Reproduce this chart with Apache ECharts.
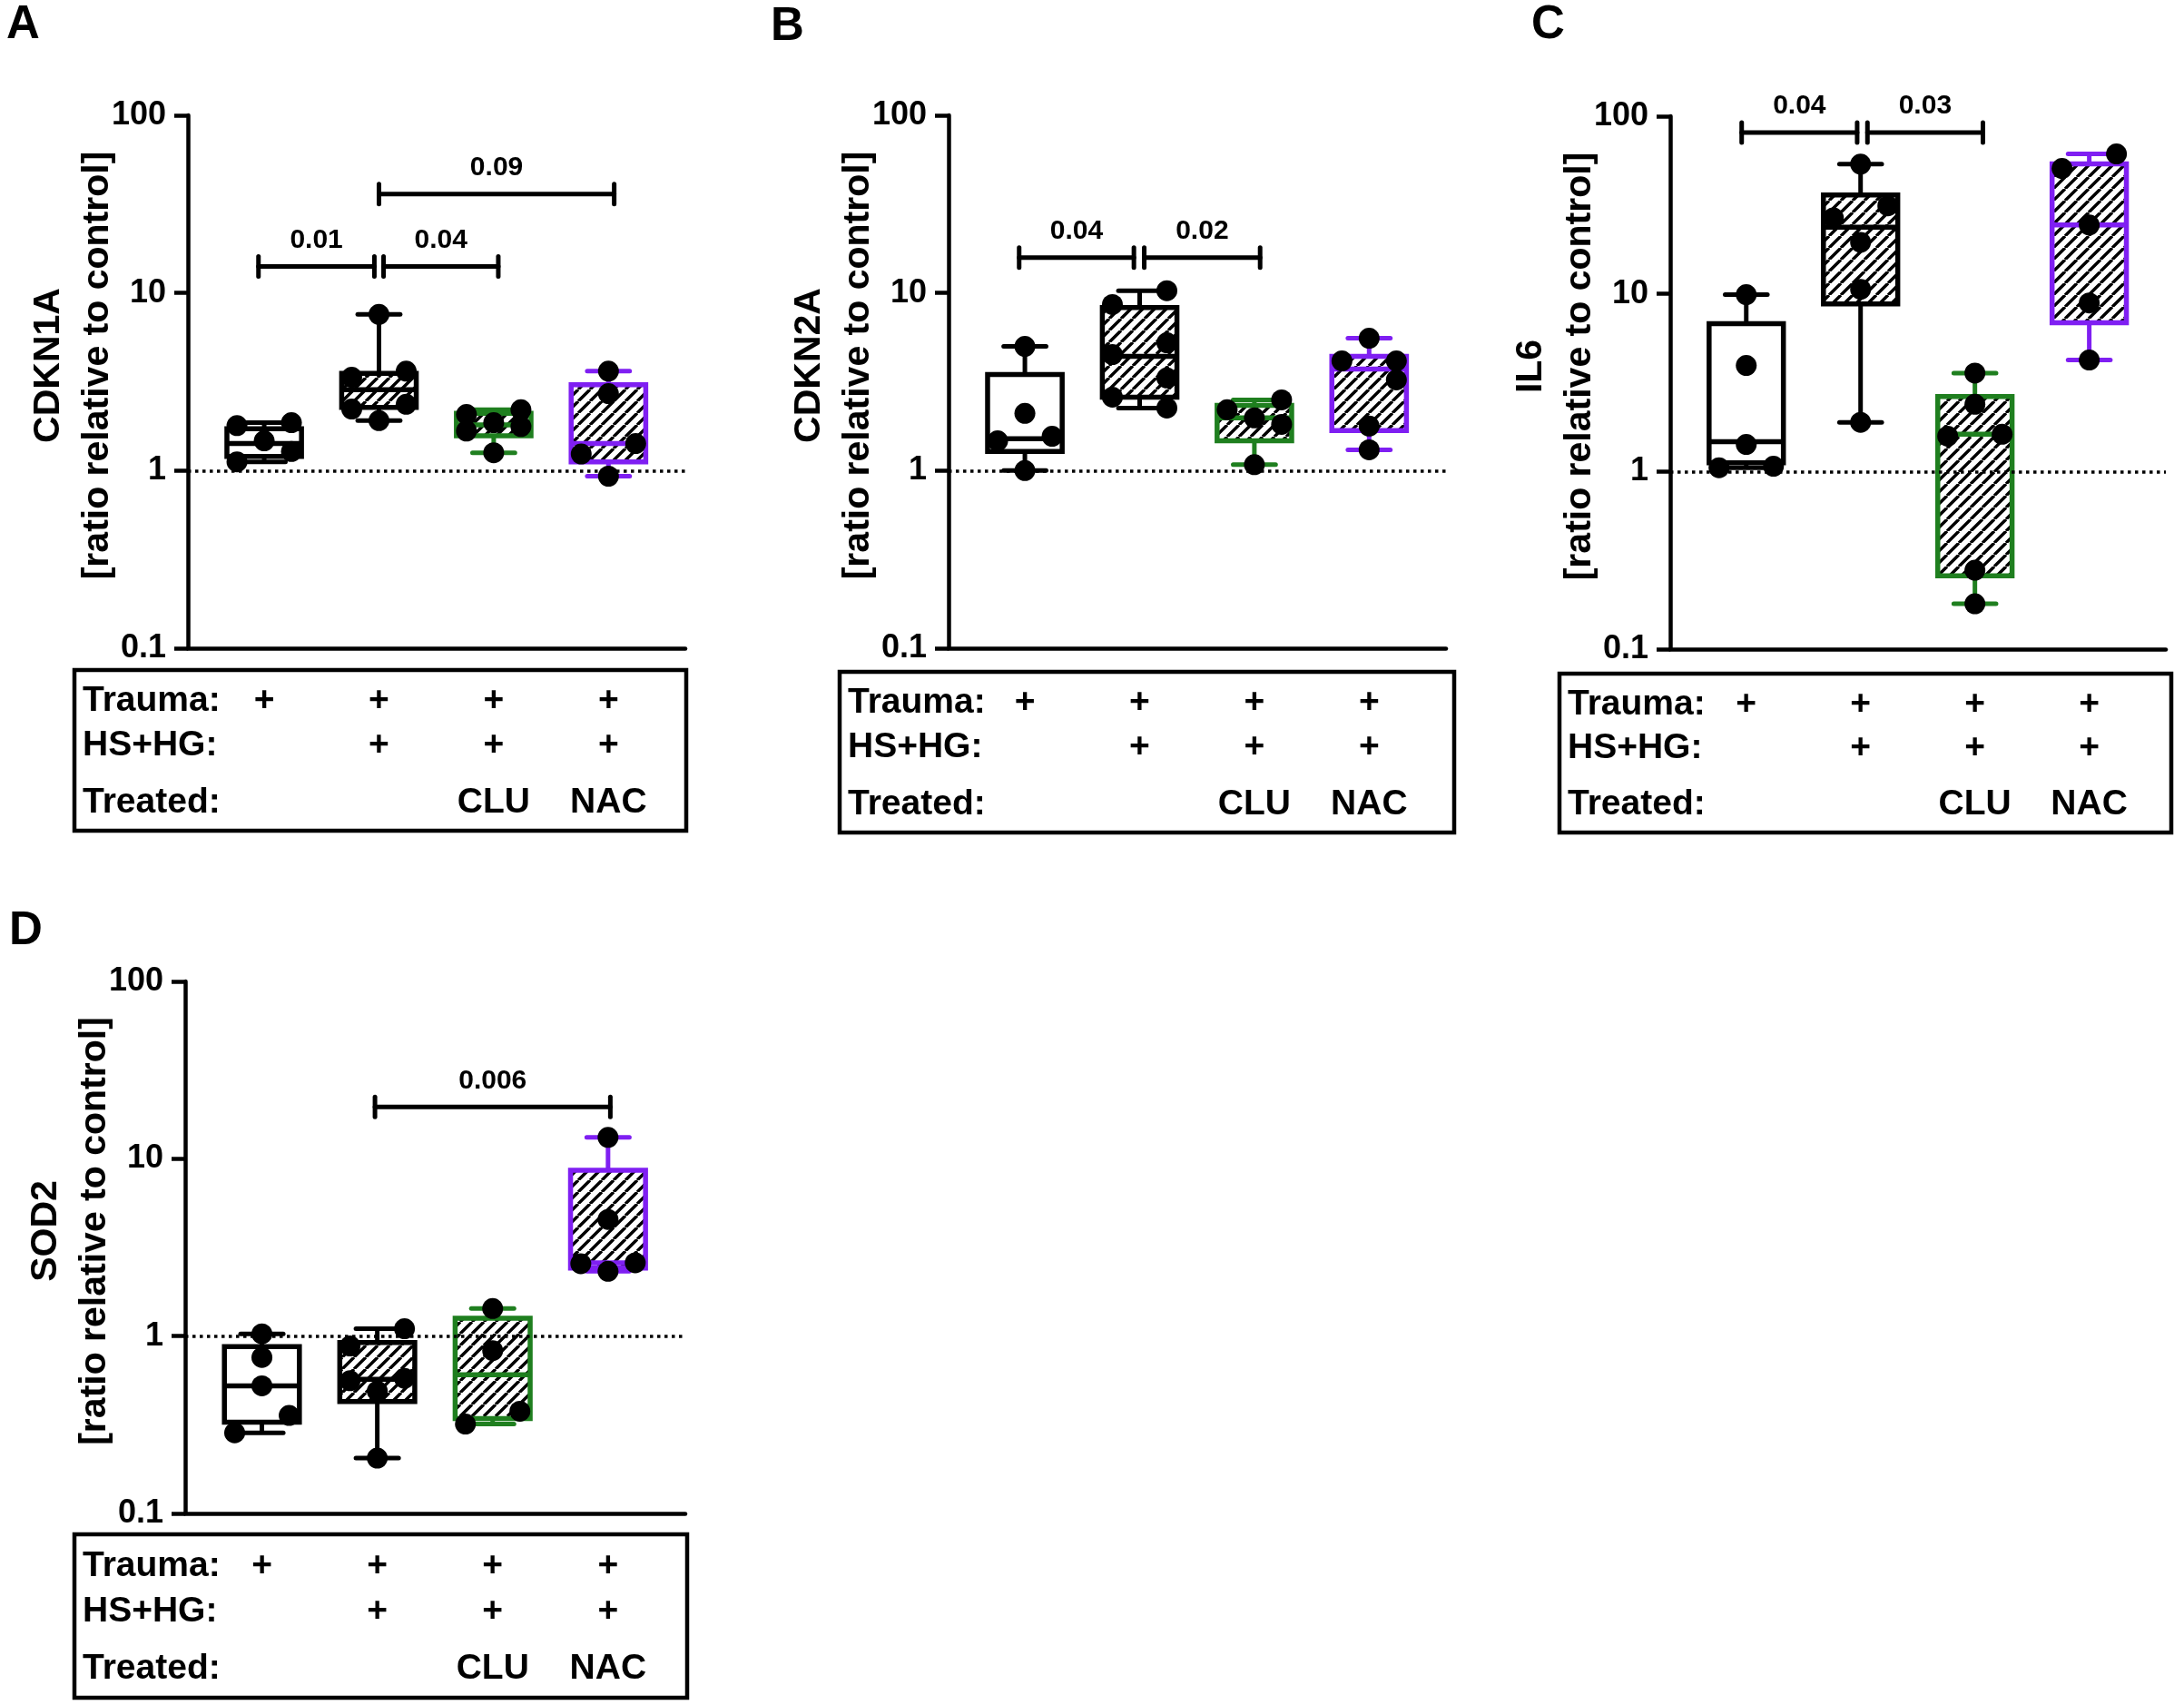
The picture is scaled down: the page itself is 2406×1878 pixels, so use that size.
<!DOCTYPE html>
<html>
<head>
<meta charset="utf-8">
<script src="https://cdn.jsdelivr.net/npm/echarts/dist/echarts.min.js"></script>
<style>
  html, body { margin: 0; padding: 0; background: #ffffff; }
  #chart { width: 2406px; height: 1878px; }
</style>
</head>
<body>
<div id="chart"></div>
<script>
// ================= DATA =================
const groups = ['Trauma', 'Trauma + HS+HG', 'Trauma + HS+HG + CLU', 'Trauma + HS+HG + NAC'];
const rowLabels = ['Trauma:', 'HS+HG:', 'Treated:'];
const traumaMarks = ['+', '+', '+', '+'];
const hshgMarks = ['', '+', '+', '+'];
const treatedMarks = ['', '', 'CLU', 'NAC'];
const yTickLabels = ['0.1', '1', '10', '100'];
const yAxisSubtitle = '[ratio relative to control]';
const panelLetters = ['A', 'B', 'C', 'D'];
const geneNames = ['CDKN1A', 'CDKN2A', 'IL6', 'SOD2'];

// individual points per group
const cdkn1aPoints = [
  [1.86, 1.79, 1.47, 1.28, 1.12],
  [7.57, 3.63, 3.35, 2.36, 2.22, 1.91],
  [2.20, 2.07, 1.86, 1.77, 1.67, 1.26],
  [3.63, 2.71, 1.42, 1.24, 0.93]
];
// box stats per group: [min, Q1, median, Q3, max]
const cdkn1aBoxes = [
  [1.12, 1.20, 1.42, 1.72, 1.86],
  [1.91, 2.27, 2.85, 3.53, 7.57],
  [1.26, 1.57, 1.81, 2.10, 2.20],
  [0.93, 1.12, 1.42, 3.04, 3.63]
];
// brackets: [fromGroup, toGroup, height, p-value]
const cdkn1aBrackets = [[0.95, 1.96, 14.1, '0.01'], [2.04, 3.04, 14.1, '0.04'], [2.0, 4.05, 36, '0.09']];

const cdkn2aPoints = [
  [5.0, 2.1, 1.56, 1.47, 1.0],
  [10.3, 8.6, 5.24, 4.5, 3.32, 2.59, 2.25],
  [2.5, 2.2, 1.98, 1.82, 1.08],
  [5.56, 4.14, 4.14, 3.24, 1.78, 1.31]
];
const cdkn2aBoxes = [
  [1.0, 1.28, 1.51, 3.47, 5.0],
  [2.25, 2.59, 4.39, 8.28, 10.3],
  [1.08, 1.47, 1.98, 2.33, 2.5],
  [1.31, 1.68, 3.73, 4.39, 5.56]
];
const cdkn2aBrackets = [[0.95, 1.95, 15.8, '0.04'], [2.04, 3.05, 15.8, '0.02']];

const il6Points = [
  [9.9, 3.95, 1.42, 1.07, 1.05],
  [53.7, 31.3, 26.8, 19.5, 10.6, 1.89],
  [3.58, 2.39, 1.62, 1.58, 0.278, 0.18],
  [61.3, 50.8, 24.4, 8.89, 4.24]
];
const il6Boxes = [
  [1.05, 1.12, 1.47, 6.79, 9.9],
  [1.89, 8.79, 23.7, 36.0, 53.7],
  [0.18, 0.259, 1.62, 2.64, 3.58],
  [4.24, 6.87, 24.4, 53.9, 61.3]
];
const il6Brackets = [[0.96, 1.97, 81, '0.04'], [2.06, 3.07, 81, '0.03']];

const sod2Points = [
  [1.03, 0.758, 0.524, 0.357, 0.285],
  [1.10, 0.88, 0.578, 0.56, 0.49, 0.205],
  [1.43, 0.828, 0.377, 0.319],
  [13.2, 4.55, 2.59, 2.56, 2.32]
];
const sod2Boxes = [
  [0.285, 0.327, 0.524, 0.873, 1.03],
  [0.205, 0.428, 0.57, 0.92, 1.10],
  [0.319, 0.343, 0.606, 1.26, 1.43],
  [2.32, 2.42, 2.59, 8.62, 13.2]
];
const sod2Brackets = [[1.98, 4.02, 19.6, '0.006']];

const referenceLevel = 1;

// ================= STYLE / LAYOUT =================
const FONT = '"Liberation Sans", Arial, Helvetica, sans-serif';
const GREEN = '#1f7f1f';
const PURPLE = '#7f1ff2';
const groupColors = ['#000000', '#000000', GREEN, PURPLE];
const groupHatched = [false, true, true, true];
const X_MIN = 0.335, X_MAX = 4.67;

const layout = [
  { plot: [207, 127, 755, 714],   table: [82, 738, 756, 915],    letter: [7, 28] },
  { plot: [1045, 127, 1593, 714], table: [925, 740, 1602, 917],  letter: [849, 30] },
  { plot: [1840, 128, 2386, 715], table: [1718, 742, 2392, 917], letter: [1687, 28] },
  { plot: [204, 1081, 755, 1667], table: [82, 1690, 757, 1870],  letter: [10, 1026] }
];
const rowFrac = [0.195, 0.472, 0.825];

const panels = [
  { points: cdkn1aPoints, boxes: cdkn1aBoxes, brackets: cdkn1aBrackets },
  { points: cdkn2aPoints, boxes: cdkn2aBoxes, brackets: cdkn2aBrackets },
  { points: il6Points, boxes: il6Boxes, brackets: il6Brackets },
  { points: sod2Points, boxes: sod2Boxes, brackets: sod2Brackets }
];

function makeHatch() {
  const s = 13;
  const c = document.createElement('canvas');
  c.width = s; c.height = s;
  const ctx = c.getContext('2d');
  ctx.fillStyle = '#ffffff';
  ctx.fillRect(0, 0, s, s);
  ctx.strokeStyle = '#000000';
  ctx.lineWidth = 3.4;
  ctx.beginPath();
  for (const k of [-1, 0, 1]) { ctx.moveTo(k * s, s); ctx.lineTo(k * s + s, 0); }
  ctx.stroke();
  return c;
}
const hatch = makeHatch();

// beeswarm-like horizontal spreading of dots that would overlap
function spreadOffsets(vals, unitsPerPx, pxPerDecade) {
  const order = vals.map((v, i) => i).sort((a, b) => vals[b] - vals[a]);
  const py = i => -Math.log10(vals[i]) * pxPerDecade;
  const D = 20, H = 30;
  const placed = [];
  const off = new Array(vals.length).fill(0);
  let side = 1;
  order.forEach(i => {
    const near = order.some(j => j !== i && Math.abs(py(j) - py(i)) < 22);
    const cands = near ? [side * H, -side * H, 0, side * H / 2, -side * H / 2] : [0, -H, H];
    const minDist = c => placed.reduce((m, p) => Math.min(m, Math.hypot(p.x - c, p.y - py(i))), Infinity);
    let chosen = null;
    for (const c of cands) { if (minDist(c) >= D) { chosen = c; break; } }
    if (chosen === null) {
      chosen = cands.reduce((best, c) => (minDist(c) > minDist(best) ? c : best), cands[0]);
    }
    if (near && chosen !== 0) side = chosen > 0 ? -1 : 1;
    placed.push({ x: chosen, y: py(i) });
    off[i] = chosen * unitsPerPx;
  });
  return off;
}

const axisLineStyle = { color: '#000', width: 4.5 };

const option = {
  animation: false,
  backgroundColor: '#ffffff',
  grid: [], xAxis: [], yAxis: [], series: [], graphic: []
};

panels.forEach((p, i) => {
  const [pl, pt, pr, pb] = layout[i].plot;
  const [tl, tt, tr, tb] = layout[i].table;
  const ppu = (pr - pl) / (X_MAX - X_MIN);
  const pxPerDecade = (pb - pt) / 3;
  const gi = 2 * i, ti = 2 * i + 1;

  // plot grid
  option.grid.push({ left: pl, top: pt, width: pr - pl, height: pb - pt, show: false, containLabel: false, outerBoundsMode: 'none' });
  option.xAxis.push({
    gridIndex: gi, type: 'value', min: X_MIN, max: X_MAX,
    axisLine: { show: true, onZero: false, lineStyle: axisLineStyle },
    axisTick: { show: false }, axisLabel: { show: false }, splitLine: { show: false }
  });
  option.yAxis.push({
    gridIndex: gi, type: 'log', logBase: 10, min: 0.1, max: 100,
    axisLine: { show: true, onZero: false, lineStyle: axisLineStyle },
    axisTick: { show: true, length: 15, lineStyle: axisLineStyle },
    minorTick: { show: false }, splitLine: { show: false },
    axisLabel: {
      show: true, margin: 24, fontSize: 36, fontWeight: 'bold', fontFamily: FONT, color: '#000',
      formatter: v => yTickLabels[Math.round(Math.log10(v)) + 1]
    }
  });

  // table grid
  const tMin = X_MIN - (pl - tl) / ppu;
  const tMax = X_MAX + (tr - pr) / ppu;
  option.grid.push({ left: tl, top: tt, width: tr - tl, height: tb - tt, show: true, borderColor: '#000', borderWidth: 4.5, backgroundColor: 'transparent', containLabel: false, outerBoundsMode: 'none' });
  option.xAxis.push({ gridIndex: ti, type: 'value', min: tMin, max: tMax, show: false });
  option.yAxis.push({ gridIndex: ti, type: 'value', min: 0, max: 1, inverse: true, show: false });

  // boxes
  option.series.push({
    type: 'custom', xAxisIndex: gi, yAxisIndex: gi, z: 2, clip: false,
    encode: { x: 0, y: [1, 2, 3, 4, 5] },
    data: p.boxes.map((b, g) => [g + 1].concat(b)),
    renderItem: (params, api) => {
      const g = api.value(0);
      const v = [1, 2, 3, 4, 5].map(k => api.value(k));
      const y = k => api.coord([g, v[k]])[1];
      const cx = api.coord([g, v[2]])[0];
      const half = api.coord([g + 0.325, v[2]])[0] - cx;
      const capHalf = api.coord([g + 0.185, v[2]])[0] - cx;
      const col = groupColors[g - 1];
      const fill = groupHatched[g - 1] ? { image: hatch, repeat: 'repeat' } : '#ffffff';
      const ls = { stroke: col, lineWidth: 5 };
      const cap = { stroke: col, lineWidth: 5, lineCap: 'round' };
      return {
        type: 'group', children: [
          { type: 'line', shape: { x1: cx, y1: y(4), x2: cx, y2: y(3) }, style: ls },
          { type: 'line', shape: { x1: cx, y1: y(1), x2: cx, y2: y(0) }, style: ls },
          { type: 'line', shape: { x1: cx - capHalf, y1: y(4), x2: cx + capHalf, y2: y(4) }, style: cap },
          { type: 'line', shape: { x1: cx - capHalf, y1: y(0), x2: cx + capHalf, y2: y(0) }, style: cap },
          { type: 'rect', shape: { x: cx - half, y: y(3), width: 2 * half, height: y(1) - y(3) }, style: { fill: fill, stroke: col, lineWidth: 5.5 } },
          { type: 'line', shape: { x1: cx - half, y1: y(2), x2: cx + half, y2: y(2) }, style: { stroke: col, lineWidth: 5.5 } }
        ]
      };
    }
  });

  // dots
  const dots = [];
  p.points.forEach((vals, g) => {
    const off = spreadOffsets(vals, 1 / ppu, pxPerDecade);
    vals.forEach((v, k) => dots.push([g + 1 + off[k], v]));
  });
  option.series.push({
    type: 'scatter', xAxisIndex: gi, yAxisIndex: gi, z: 4,
    symbol: 'circle', symbolSize: 23, itemStyle: { color: '#000', opacity: 1 },
    data: dots,
    markLine: {
      silent: true, symbol: ['none', 'none'], label: { show: false }, z: 3,
      lineStyle: { color: '#000', width: 3.5, type: [3.5, 4.5] },
      data: [{ yAxis: referenceLevel }]
    }
  });

  // significance brackets
  const br = p.brackets;
  option.series.push({
    type: 'custom', xAxisIndex: gi, yAxisIndex: gi, z: 5, clip: false,
    encode: { x: [0, 1], y: 2 },
    data: br.map(b => [b[0], b[1], b[2]]),
    renderItem: (params, api) => {
      const a = api.coord([api.value(0), api.value(2)]);
      const b = api.coord([api.value(1), api.value(2)]);
      const st = { stroke: '#000', lineWidth: 5, lineCap: 'round' };
      return {
        type: 'group', children: [
          { type: 'line', shape: { x1: a[0], y1: a[1], x2: b[0], y2: b[1] }, style: st },
          { type: 'line', shape: { x1: a[0], y1: a[1] - 11, x2: a[0], y2: a[1] + 11 }, style: st },
          { type: 'line', shape: { x1: b[0], y1: b[1] - 11, x2: b[0], y2: b[1] + 11 }, style: st },
          { type: 'text', style: { text: br[params.dataIndex][3], x: (a[0] + b[0]) / 2, y: a[1] - 29, textAlign: 'center', textVerticalAlign: 'middle', font: 'bold 30px ' + FONT, fill: '#000' } }
        ]
      };
    }
  });

  // table text
  const cells = [];
  rowLabels.forEach((t, r) => cells.push({ x: tMin + 9 / ppu, y: rowFrac[r], text: t, align: 'left' }));
  [traumaMarks, hshgMarks, treatedMarks].forEach((row, r) => {
    row.forEach((t, g) => { if (t) cells.push({ x: g + 1, y: rowFrac[r], text: t, align: 'center' }); });
  });
  option.series.push({
    type: 'custom', xAxisIndex: ti, yAxisIndex: ti, z: 5, clip: false,
    encode: { x: 0, y: 1 },
    data: cells.map(c => [c.x, c.y]),
    renderItem: (params, api) => {
      const pnt = api.coord([api.value(0), api.value(1)]);
      const c = cells[params.dataIndex];
      return { type: 'text', style: { text: c.text, x: pnt[0], y: pnt[1], textAlign: c.align, textVerticalAlign: 'middle', font: 'bold 39px ' + FONT, fill: '#000' } };
    }
  });

  // panel letter and y-axis titles
  const mid = (pt + pb) / 2 - 18;
  option.graphic.push(
    { type: 'text', x: layout[i].letter[0], y: layout[i].letter[1], style: { text: panelLetters[i], font: 'bold 51px ' + FONT, fill: '#000', textAlign: 'left', textVerticalAlign: 'middle' } },
    { type: 'text', x: pl - 153, y: mid, rotation: Math.PI / 2, style: { text: geneNames[i], font: 'bold 41px ' + FONT, fill: '#000', textAlign: 'center', textVerticalAlign: 'middle' } },
    { type: 'text', x: pl - 99, y: mid, rotation: Math.PI / 2, style: { text: yAxisSubtitle, font: 'bold 41px ' + FONT, fill: '#000', textAlign: 'center', textVerticalAlign: 'middle' } }
  );
});

const chart = echarts.init(document.getElementById('chart'), null, { renderer: 'canvas' });
chart.setOption(option);
</script>
</body>
</html>
